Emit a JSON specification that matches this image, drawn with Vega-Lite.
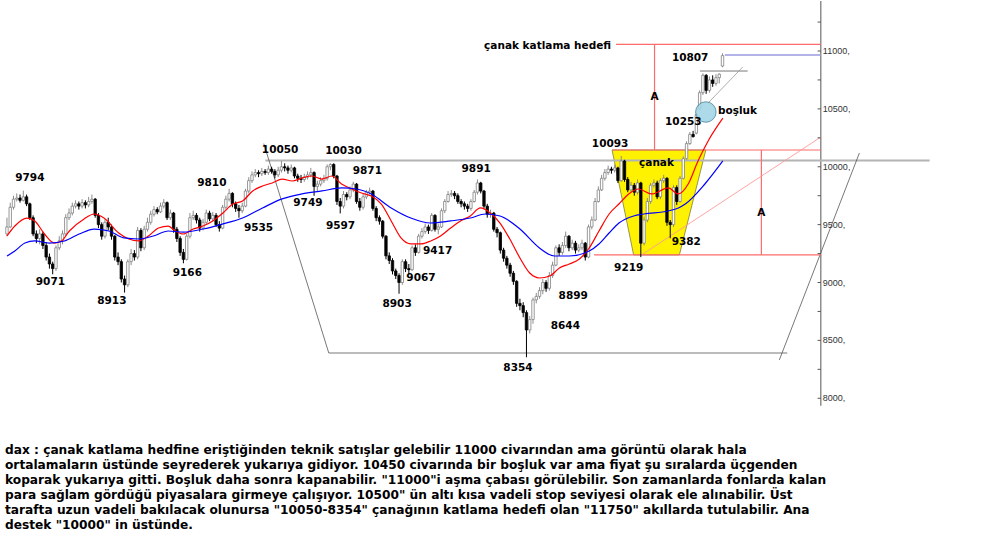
{
"$schema":"https://vega.github.io/schema/vega-lite/v6.json",
"width":1000,"height":410,"padding":0,"background":"white",
"config":{"view":{"stroke":null}},
"title":{"text":["dax : çanak katlama hedfine eriştiğinden teknik satışlar gelebilir 11000 civarından ama görüntü olarak hala","ortalamaların üstünde seyrederek yukarıya gidiyor. 10450 civarında bir boşluk var ama fiyat şu sıralarda üçgenden","koparak yukarıya gitti. Boşluk daha sonra kapanabilir.  \"11000\"i aşma çabası görülebilir. Son zamanlarda fonlarda kalan","para sağlam gördüğü piyasalara girmeye çalışıyor. 10500\" ün altı kısa vadeli stop seviyesi olarak ele alınabilir. Üst","tarafta uzun vadeli bakılacak olunursa \"10050-8354\" çanağının katlama hedefi olan \"11750\" akıllarda tutulabilir. Ana","destek \"10000\" in üstünde."],"orient":"bottom","anchor":"start","font":"DejaVu Sans","fontSize":12.2,"fontWeight":"bold","color":"#000","lineHeight":15,"offset":33,"dx":5},
"datasets":{
"candles":[
{"d":0,"o":9420,"h":9560,"l":9400,"c":9480},{"d":1,"o":9480,"h":9690,"l":9470,"c":9650},{"d":2,"o":9650,"h":9750,"l":9630,"c":9720},{"d":3,"o":9720,"h":9770,"l":9700,"c":9730},{"d":4,"o":9730,"h":9760,"l":9690,"c":9710},{"d":5,"o":9710,"h":9794,"l":9700,"c":9740},{"d":6,"o":9740,"h":9760,"l":9660,"c":9680},{"d":7,"o":9680,"h":9690,"l":9540,"c":9560},{"d":8,"o":9560,"h":9580,"l":9400,"c":9420},{"d":9,"o":9420,"h":9450,"l":9340,"c":9380},
{"d":10,"o":9380,"h":9460,"l":9330,"c":9420},{"d":11,"o":9420,"h":9440,"l":9290,"c":9320},{"d":12,"o":9320,"h":9350,"l":9190,"c":9220},{"d":13,"o":9220,"h":9250,"l":9120,"c":9160},{"d":14,"o":9160,"h":9180,"l":9071,"c":9120},{"d":15,"o":9120,"h":9320,"l":9100,"c":9300},{"d":16,"o":9300,"h":9400,"l":9280,"c":9360},{"d":17,"o":9360,"h":9450,"l":9330,"c":9420},{"d":18,"o":9420,"h":9590,"l":9400,"c":9560},{"d":19,"o":9560,"h":9640,"l":9540,"c":9600},
{"d":20,"o":9600,"h":9690,"l":9580,"c":9660},{"d":21,"o":9660,"h":9710,"l":9640,"c":9680},{"d":22,"o":9680,"h":9700,"l":9630,"c":9660},{"d":23,"o":9660,"h":9720,"l":9640,"c":9690},{"d":24,"o":9690,"h":9710,"l":9640,"c":9670},{"d":25,"o":9670,"h":9740,"l":9650,"c":9700},{"d":26,"o":9700,"h":9760,"l":9680,"c":9720},{"d":27,"o":9720,"h":9730,"l":9560,"c":9580},{"d":28,"o":9580,"h":9600,"l":9470,"c":9500},{"d":29,"o":9500,"h":9520,"l":9370,"c":9400},
{"d":30,"o":9400,"h":9550,"l":9380,"c":9520},{"d":31,"o":9520,"h":9560,"l":9450,"c":9480},{"d":32,"o":9480,"h":9500,"l":9370,"c":9400},{"d":33,"o":9400,"h":9410,"l":9190,"c":9220},{"d":34,"o":9220,"h":9260,"l":9150,"c":9180},{"d":35,"o":9180,"h":9200,"l":9000,"c":9030},{"d":36,"o":9030,"h":9060,"l":8913,"c":8980},{"d":37,"o":8980,"h":9200,"l":8960,"c":9180},{"d":38,"o":9180,"h":9290,"l":9150,"c":9250},{"d":39,"o":9250,"h":9280,"l":9190,"c":9220},
{"d":40,"o":9220,"h":9480,"l":9200,"c":9450},{"d":41,"o":9450,"h":9470,"l":9270,"c":9300},{"d":42,"o":9300,"h":9490,"l":9280,"c":9460},{"d":43,"o":9460,"h":9560,"l":9440,"c":9520},{"d":44,"o":9520,"h":9620,"l":9500,"c":9590},{"d":45,"o":9590,"h":9660,"l":9570,"c":9630},{"d":46,"o":9630,"h":9650,"l":9590,"c":9610},{"d":47,"o":9610,"h":9690,"l":9600,"c":9660},{"d":48,"o":9660,"h":9720,"l":9640,"c":9690},{"d":49,"o":9690,"h":9700,"l":9540,"c":9560},
{"d":50,"o":9560,"h":9630,"l":9540,"c":9600},{"d":51,"o":9600,"h":9610,"l":9430,"c":9460},{"d":52,"o":9460,"h":9480,"l":9350,"c":9380},{"d":53,"o":9380,"h":9400,"l":9230,"c":9260},{"d":54,"o":9260,"h":9290,"l":9166,"c":9200},{"d":55,"o":9200,"h":9420,"l":9190,"c":9400},{"d":56,"o":9400,"h":9600,"l":9380,"c":9560},{"d":57,"o":9560,"h":9620,"l":9540,"c":9580},{"d":58,"o":9580,"h":9600,"l":9510,"c":9540},{"d":59,"o":9540,"h":9560,"l":9440,"c":9470},
{"d":60,"o":9470,"h":9550,"l":9450,"c":9520},{"d":61,"o":9520,"h":9630,"l":9500,"c":9600},{"d":62,"o":9600,"h":9620,"l":9530,"c":9550},{"d":63,"o":9550,"h":9610,"l":9530,"c":9580},{"d":64,"o":9580,"h":9600,"l":9480,"c":9500},{"d":65,"o":9500,"h":9530,"l":9440,"c":9470},{"d":66,"o":9470,"h":9670,"l":9460,"c":9650},{"d":67,"o":9650,"h":9750,"l":9630,"c":9720},{"d":68,"o":9720,"h":9810,"l":9700,"c":9770},{"d":69,"o":9770,"h":9780,"l":9650,"c":9680},
{"d":70,"o":9680,"h":9700,"l":9610,"c":9640},{"d":71,"o":9640,"h":9670,"l":9560,"c":9620},{"d":72,"o":9620,"h":9690,"l":9600,"c":9660},{"d":73,"o":9660,"h":9810,"l":9650,"c":9790},{"d":74,"o":9790,"h":9910,"l":9770,"c":9880},{"d":75,"o":9880,"h":9960,"l":9860,"c":9930},{"d":76,"o":9930,"h":9980,"l":9910,"c":9950},{"d":77,"o":9950,"h":9970,"l":9910,"c":9940},{"d":78,"o":9940,"h":9990,"l":9920,"c":9960},{"d":79,"o":9960,"h":9980,"l":9930,"c":9950},
{"d":80,"o":9950,"h":10010,"l":9930,"c":9980},{"d":81,"o":9980,"h":10000,"l":9940,"c":9960},{"d":82,"o":9960,"h":9980,"l":9900,"c":9930},{"d":83,"o":9930,"h":10000,"l":9910,"c":9970},{"d":84,"o":9970,"h":10050,"l":9950,"c":10000},{"d":85,"o":10000,"h":10030,"l":9960,"c":9990},{"d":86,"o":9990,"h":10010,"l":9940,"c":9970},{"d":87,"o":9970,"h":10020,"l":9950,"c":9990},{"d":88,"o":9990,"h":10000,"l":9900,"c":9920},{"d":89,"o":9920,"h":9940,"l":9870,"c":9900},
{"d":90,"o":9900,"h":9930,"l":9860,"c":9890},{"d":91,"o":9890,"h":9940,"l":9870,"c":9910},{"d":92,"o":9910,"h":9960,"l":9890,"c":9930},{"d":93,"o":9930,"h":9990,"l":9910,"c":9950},{"d":94,"o":9950,"h":9960,"l":9749,"c":9830},{"d":95,"o":9830,"h":9880,"l":9790,"c":9850},{"d":96,"o":9850,"h":9910,"l":9830,"c":9880},{"d":97,"o":9880,"h":9930,"l":9860,"c":9900},{"d":98,"o":9900,"h":10020,"l":9880,"c":10000},{"d":99,"o":10000,"h":10030,"l":9970,"c":10020},
{"d":100,"o":10020,"h":10030,"l":9900,"c":9920},{"d":101,"o":9920,"h":9930,"l":9670,"c":9700},{"d":102,"o":9700,"h":9730,"l":9597,"c":9660},{"d":103,"o":9660,"h":9790,"l":9640,"c":9760},{"d":104,"o":9760,"h":9780,"l":9710,"c":9740},{"d":105,"o":9740,"h":9830,"l":9720,"c":9800},{"d":106,"o":9800,"h":9871,"l":9780,"c":9850},{"d":107,"o":9850,"h":9860,"l":9680,"c":9700},{"d":108,"o":9700,"h":9730,"l":9620,"c":9650},{"d":109,"o":9650,"h":9770,"l":9630,"c":9740},
{"d":110,"o":9740,"h":9800,"l":9720,"c":9780},{"d":111,"o":9780,"h":9820,"l":9760,"c":9790},{"d":112,"o":9790,"h":9800,"l":9620,"c":9640},{"d":113,"o":9640,"h":9660,"l":9530,"c":9560},{"d":114,"o":9560,"h":9580,"l":9500,"c":9530},{"d":115,"o":9530,"h":9540,"l":9380,"c":9400},{"d":116,"o":9400,"h":9410,"l":9200,"c":9230},{"d":117,"o":9230,"h":9260,"l":9160,"c":9190},{"d":118,"o":9190,"h":9210,"l":9070,"c":9100},{"d":119,"o":9100,"h":9120,"l":9030,"c":9060},
{"d":120,"o":9060,"h":9080,"l":8903,"c":9000},{"d":121,"o":9000,"h":9200,"l":8980,"c":9180},{"d":122,"o":9180,"h":9200,"l":9090,"c":9120},{"d":123,"o":9120,"h":9160,"l":9067,"c":9110},{"d":124,"o":9110,"h":9320,"l":9100,"c":9300},{"d":125,"o":9300,"h":9330,"l":9230,"c":9260},{"d":126,"o":9260,"h":9420,"l":9250,"c":9400},{"d":127,"o":9400,"h":9470,"l":9380,"c":9440},{"d":128,"o":9440,"h":9510,"l":9420,"c":9480},{"d":129,"o":9480,"h":9500,"l":9420,"c":9450},
{"d":130,"o":9450,"h":9600,"l":9440,"c":9580},{"d":131,"o":9580,"h":9590,"l":9440,"c":9460},{"d":132,"o":9460,"h":9510,"l":9417,"c":9480},{"d":133,"o":9480,"h":9640,"l":9470,"c":9620},{"d":134,"o":9620,"h":9720,"l":9600,"c":9700},{"d":135,"o":9700,"h":9790,"l":9690,"c":9760},{"d":136,"o":9760,"h":9800,"l":9740,"c":9770},{"d":137,"o":9770,"h":9790,"l":9720,"c":9750},{"d":138,"o":9750,"h":9770,"l":9680,"c":9700},{"d":139,"o":9700,"h":9720,"l":9650,"c":9680},
{"d":140,"o":9680,"h":9700,"l":9630,"c":9660},{"d":141,"o":9660,"h":9680,"l":9610,"c":9640},{"d":142,"o":9640,"h":9720,"l":9620,"c":9700},{"d":143,"o":9700,"h":9800,"l":9690,"c":9780},{"d":144,"o":9780,"h":9891,"l":9760,"c":9860},{"d":145,"o":9860,"h":9870,"l":9770,"c":9790},{"d":146,"o":9790,"h":9800,"l":9640,"c":9660},{"d":147,"o":9660,"h":9680,"l":9560,"c":9590},{"d":148,"o":9590,"h":9630,"l":9560,"c":9600},{"d":149,"o":9600,"h":9610,"l":9440,"c":9460},
{"d":150,"o":9460,"h":9480,"l":9390,"c":9430},{"d":151,"o":9430,"h":9440,"l":9250,"c":9280},{"d":152,"o":9280,"h":9300,"l":9180,"c":9210},{"d":153,"o":9210,"h":9230,"l":9120,"c":9150},{"d":154,"o":9150,"h":9170,"l":9050,"c":9080},{"d":155,"o":9080,"h":9100,"l":8980,"c":9010},{"d":156,"o":9010,"h":9020,"l":8790,"c":8820},{"d":157,"o":8820,"h":8860,"l":8760,"c":8800},{"d":158,"o":8800,"h":8830,"l":8700,"c":8740},{"d":159,"o":8740,"h":8760,"l":8354,"c":8590},
{"d":160,"o":8590,"h":8710,"l":8560,"c":8680},{"d":161,"o":8680,"h":8870,"l":8644,"c":8850},{"d":162,"o":8850,"h":8910,"l":8820,"c":8880},{"d":163,"o":8880,"h":8960,"l":8860,"c":8930},{"d":164,"o":8930,"h":9030,"l":8899,"c":9000},{"d":165,"o":9000,"h":9020,"l":8920,"c":8950},{"d":166,"o":8950,"h":9090,"l":8930,"c":9060},{"d":167,"o":9060,"h":9180,"l":9040,"c":9150},{"d":168,"o":9150,"h":9320,"l":9140,"c":9300},{"d":169,"o":9300,"h":9330,"l":9230,"c":9260},
{"d":170,"o":9260,"h":9350,"l":9240,"c":9320},{"d":171,"o":9320,"h":9440,"l":9300,"c":9400},{"d":172,"o":9400,"h":9410,"l":9270,"c":9300},{"d":173,"o":9300,"h":9370,"l":9280,"c":9340},{"d":174,"o":9340,"h":9360,"l":9250,"c":9280},{"d":175,"o":9280,"h":9330,"l":9260,"c":9300},{"d":176,"o":9300,"h":9370,"l":9280,"c":9340},{"d":177,"o":9340,"h":9350,"l":9190,"c":9220},{"d":178,"o":9220,"h":9500,"l":9210,"c":9480},{"d":179,"o":9480,"h":9570,"l":9460,"c":9540},
{"d":180,"o":9540,"h":9730,"l":9530,"c":9700},{"d":181,"o":9700,"h":9830,"l":9690,"c":9800},{"d":182,"o":9800,"h":9930,"l":9790,"c":9900},{"d":183,"o":9900,"h":9980,"l":9880,"c":9950},{"d":184,"o":9950,"h":10010,"l":9930,"c":9980},{"d":185,"o":9980,"h":10000,"l":9940,"c":9970},{"d":186,"o":9970,"h":10020,"l":9950,"c":9990},{"d":187,"o":9990,"h":10000,"l":9860,"c":9880},{"d":188,"o":9880,"h":10093,"l":9870,"c":10050},{"d":189,"o":10050,"h":10060,"l":9870,"c":9890},
{"d":190,"o":9890,"h":9910,"l":9780,"c":9800},{"d":191,"o":9800,"h":9870,"l":9780,"c":9840},{"d":192,"o":9840,"h":9860,"l":9750,"c":9780},{"d":193,"o":9780,"h":9890,"l":9760,"c":9860},{"d":194,"o":9860,"h":9870,"l":9219,"c":9340},{"d":195,"o":9340,"h":9570,"l":9320,"c":9540},{"d":196,"o":9540,"h":9730,"l":9520,"c":9700},{"d":197,"o":9700,"h":9860,"l":9680,"c":9840},{"d":198,"o":9840,"h":9890,"l":9820,"c":9860},{"d":199,"o":9860,"h":9880,"l":9720,"c":9740},
{"d":200,"o":9740,"h":9900,"l":9720,"c":9880},{"d":201,"o":9880,"h":9930,"l":9860,"c":9900},{"d":202,"o":9900,"h":9910,"l":9490,"c":9520},{"d":203,"o":9520,"h":9540,"l":9382,"c":9500},{"d":204,"o":9500,"h":9840,"l":9480,"c":9820},{"d":205,"o":9820,"h":9840,"l":9670,"c":9700},{"d":206,"o":9700,"h":9920,"l":9690,"c":9900},{"d":207,"o":9900,"h":10090,"l":9890,"c":10070},{"d":208,"o":10070,"h":10220,"l":10060,"c":10200},{"d":209,"o":10200,"h":10300,"l":10190,"c":10280},
{"d":210,"o":10280,"h":10310,"l":10253,"c":10260},{"d":211,"o":10290,"h":10460,"l":10280,"c":10450},{"d":212,"o":10500,"h":10660,"l":10490,"c":10640},{"d":213,"o":10640,"h":10807,"l":10620,"c":10790},{"d":214,"o":10790,"h":10800,"l":10630,"c":10660},{"d":215,"o":10660,"h":10780,"l":10640,"c":10750},{"d":216,"o":10750,"h":10790,"l":10690,"c":10720},{"d":217,"o":10720,"h":10800,"l":10700,"c":10770},{"d":218,"o":10770,"h":10807,"l":10720,"c":10800},{"d":219,"o":10870,"h":10980,"l":10860,"c":10960}
],
"ma":[
{"s":"r","d":0,"v":9402},{"s":"r","d":2.4,"v":9488},{"s":"r","d":6.1,"v":9557},{"s":"r","d":8.5,"v":9532},{"s":"r","d":11.5,"v":9419},{"s":"r","d":14.5,"v":9341},{"s":"r","d":16.7,"v":9359},{"s":"r","d":19.1,"v":9445},{"s":"r","d":23.6,"v":9549},{"s":"r","d":26.7,"v":9592},{"s":"r","d":29.7,"v":9557},{"s":"r","d":34.2,"v":9428},{"s":"r","d":37.3,"v":9376},{"s":"r","d":40.3,"v":9359},{"s":"r","d":43.3,"v":9402},{"s":"r","d":46.4,"v":9471},{"s":"r","d":49.4,"v":9488},{"s":"r","d":51.5,"v":9445},{"s":"r","d":54,"v":9419},{"s":"r","d":57,"v":9462},{"s":"r","d":60,"v":9488},{"s":"r","d":63,"v":9532},{"s":"r","d":66.1,"v":9601},{"s":"r","d":69.1,"v":9678},{"s":"r","d":72.1,"v":9704},{"s":"r","d":75.2,"v":9791},{"s":"r","d":78.2,"v":9834},{"s":"r","d":81.2,"v":9860},{"s":"r","d":84.2,"v":9894},{"s":"r","d":87.3,"v":9877},{"s":"r","d":90.3,"v":9903},{"s":"r","d":93.3,"v":9920},{"s":"r","d":96.4,"v":9894},{"s":"r","d":99.4,"v":9920},{"s":"r","d":102.4,"v":9851},{"s":"r","d":105.5,"v":9808},{"s":"r","d":108.5,"v":9773},{"s":"r","d":111.5,"v":9747},{"s":"r","d":114.6,"v":9678},{"s":"r","d":117.6,"v":9532},{"s":"r","d":120.6,"v":9385},{"s":"r","d":123.6,"v":9333},{"s":"r","d":126.7,"v":9333},{"s":"r","d":129.7,"v":9359},{"s":"r","d":132.7,"v":9402},{"s":"r","d":135.8,"v":9471},{"s":"r","d":138.8,"v":9532},{"s":"r","d":141.8,"v":9575},{"s":"r","d":144.9,"v":9644},{"s":"r","d":147.9,"v":9601},{"s":"r","d":150.9,"v":9514},{"s":"r","d":153.9,"v":9376},{"s":"r","d":157,"v":9212},{"s":"r","d":160,"v":9082},{"s":"r","d":163,"v":9039},{"s":"r","d":166.1,"v":9056},{"s":"r","d":169.1,"v":9125},{"s":"r","d":172.1,"v":9160},{"s":"r","d":175.2,"v":9203},{"s":"r","d":178.2,"v":9298},{"s":"r","d":181.2,"v":9445},{"s":"r","d":184.3,"v":9592},{"s":"r","d":187.3,"v":9678},{"s":"r","d":190.3,"v":9765},{"s":"r","d":193.3,"v":9808},{"s":"r","d":197.3,"v":9765},{"s":"r","d":202.4,"v":9817},{"s":"r","d":205.5,"v":9765},{"s":"r","d":208.5,"v":9851},{"s":"r","d":211.5,"v":10050},{"s":"r","d":214.6,"v":10223},{"s":"r","d":219.1,"v":10420},
{"s":"b","d":0,"v":9229},{"s":"b","d":2.4,"v":9272},{"s":"b","d":5.5,"v":9341},{"s":"b","d":8.5,"v":9359},{"s":"b","d":13,"v":9341},{"s":"b","d":17.6,"v":9359},{"s":"b","d":22.1,"v":9419},{"s":"b","d":26.7,"v":9462},{"s":"b","d":31.2,"v":9445},{"s":"b","d":35.8,"v":9385},{"s":"b","d":40.3,"v":9376},{"s":"b","d":44.8,"v":9402},{"s":"b","d":49.4,"v":9445},{"s":"b","d":54,"v":9436},{"s":"b","d":60,"v":9462},{"s":"b","d":66.1,"v":9506},{"s":"b","d":72.1,"v":9557},{"s":"b","d":78.2,"v":9644},{"s":"b","d":84.2,"v":9722},{"s":"b","d":90.3,"v":9765},{"s":"b","d":96.4,"v":9791},{"s":"b","d":102.4,"v":9817},{"s":"b","d":107,"v":9808},{"s":"b","d":111.5,"v":9765},{"s":"b","d":117.6,"v":9644},{"s":"b","d":123.6,"v":9557},{"s":"b","d":129.7,"v":9514},{"s":"b","d":135.8,"v":9532},{"s":"b","d":141.8,"v":9557},{"s":"b","d":146.4,"v":9592},{"s":"b","d":150.9,"v":9575},{"s":"b","d":157,"v":9462},{"s":"b","d":163,"v":9298},{"s":"b","d":167.6,"v":9229},{"s":"b","d":172.1,"v":9229},{"s":"b","d":178.2,"v":9272},{"s":"b","d":181.2,"v":9333},{"s":"b","d":184.3,"v":9428},{"s":"b","d":187.3,"v":9514},{"s":"b","d":191.8,"v":9575},{"s":"b","d":194.9,"v":9592},{"s":"b","d":202.4,"v":9618},{"s":"b","d":205.5,"v":9644},{"s":"b","d":207.6,"v":9678},{"s":"b","d":213.6,"v":9851},{"s":"b","d":219.1,"v":10050}
],
"labels":[
{"t":"9794","d":7.0,"p":9903},{"t":"9071","d":13.3,"p":9005},{"t":"8913","d":32.1,"p":8840},{"t":"9166","d":55.2,"p":9082},{"t":"9810","d":62.7,"p":9860},{"t":"9535","d":77.0,"p":9471},{"t":"10050","d":83.6,"p":10145},{"t":"10030","d":103.0,"p":10136},{"t":"9749","d":92.1,"p":9687},{"t":"9871","d":110.3,"p":9963},{"t":"9597","d":102.1,"p":9488},{"t":"9891","d":143.6,"p":9981},{"t":"9417","d":131.8,"p":9272},{"t":"9067","d":126.7,"p":9039},{"t":"8903","d":119.4,"p":8815},{"t":"8899","d":173.3,"p":8884},{"t":"8644","d":170.9,"p":8625},{"t":"8354","d":156.4,"p":8262},{"t":"10093","d":184.6,"p":10197},{"t":"çanak","d":198.8,"p":10033},{"t":"9382","d":207.9,"p":9350},{"t":"9219","d":190.3,"p":9126},{"t":"10253","d":207.0,"p":10387},{"t":"10807","d":209.1,"p":10940},{"t":"A","d":198.2,"p":10603},{"t":"A","d":230.9,"p":9600}
],
"axislabels":[
{"p":8000,"t":"8000,"},{"p":8500,"t":"8500,"},{"p":9000,"t":"9000,"},{"p":9500,"t":"9500,"},{"p":10000,"t":"10000,"},{"p":10500,"t":"10500,"},{"p":11000,"t":"11000,"}
]
},
"layer":[
{"data":{"values":[{"p":10145,"xa":185.2,"xb":213.9},{"p":9238,"xa":191.8,"xb":205.8}]},
 "mark":{"type":"area","orient":"horizontal","fill":"#fff200","stroke":"#6b6b3a","strokeWidth":0.7},
 "encoding":{"y":{"field":"p","type":"quantitative","scale":{"domain":[7890,11432],"nice":false,"zero":false},"axis":null},
  "x":{"field":"xa","type":"quantitative","scale":{"domain":[-0.6,302.4],"nice":false,"zero":false},"axis":null},"x2":{"field":"xb"}}},
{"data":{"values":[{"d1":249.1,"d2":249.1,"p1":7935,"p2":11432}]},
 "mark":{"type":"rule","color":"#555","strokeWidth":1},
 "encoding":{"x":{"field":"d1","type":"quantitative","axis":null},"x2":{"field":"d2"},"y":{"field":"p1","type":"quantitative","axis":null},"y2":{"field":"p2"}}},
{"data":{"values":[{"d1":79.1,"d2":282.4,"p1":10055,"p2":10055}]},
 "mark":{"type":"rule","color":"#b4b4b4","strokeWidth":2},
 "encoding":{"x":{"field":"d1","type":"quantitative","axis":null},"x2":{"field":"d2"},"y":{"field":"p1","type":"quantitative","axis":null},"y2":{"field":"p2"}}},
{"data":{"values":[{"d1":78.6,"p1":10200,"d2":98.5,"p2":8391},{"d1":98.5,"p1":8391,"d2":238.8,"p2":8391},{"d1":236.4,"p1":8331,"d2":260.9,"p2":10119},{"d1":212.1,"p1":10827,"d2":226.7,"p2":10827}]},
 "mark":{"type":"rule","color":"#555","strokeWidth":0.8},
 "encoding":{"x":{"field":"d1","type":"quantitative","axis":null},"x2":{"field":"d2"},"y":{"field":"p1","type":"quantitative","axis":null},"y2":{"field":"p2"}}},
{"data":{"values":[{"d1":214.6,"p1":10551,"d2":225.2,"p2":10862}]},
 "mark":{"type":"rule","color":"#999","strokeWidth":0.8},
 "encoding":{"x":{"field":"d1","type":"quantitative","axis":null},"x2":{"field":"d2"},"y":{"field":"p1","type":"quantitative","axis":null},"y2":{"field":"p2"}}},
{"data":{"values":[{"d1":186.4,"p1":11058,"d2":249.1,"p2":11058},{"d1":198.2,"p1":11058,"d2":198.2,"p2":10145},{"d1":185.2,"p1":10145,"d2":249.1,"p2":10145},{"d1":179.7,"p1":9238,"d2":249.1,"p2":9238},{"d1":230.9,"p1":10145,"d2":230.9,"p2":9238}]},
 "mark":{"type":"rule","color":"#ff6b6b","strokeWidth":1.2},
 "encoding":{"x":{"field":"d1","type":"quantitative","axis":null},"x2":{"field":"d2"},"y":{"field":"p1","type":"quantitative","axis":null},"y2":{"field":"p2"}}},
{"data":{"values":[{"d1":194.2,"p1":9238,"d2":249.1,"p2":10257}]},
 "mark":{"type":"rule","color":"#ff9a9a","strokeWidth":0.9},
 "encoding":{"x":{"field":"d1","type":"quantitative","axis":null},"x2":{"field":"d2"},"y":{"field":"p1","type":"quantitative","axis":null},"y2":{"field":"p2"}}},
{"data":{"values":[{"d1":219.7,"p1":10965,"d2":249.1,"p2":10965}]},
 "mark":{"type":"rule","color":"#9a9ae0","strokeWidth":1.5},
 "encoding":{"x":{"field":"d1","type":"quantitative","axis":null},"x2":{"field":"d2"},"y":{"field":"p1","type":"quantitative","axis":null},"y2":{"field":"p2"}}},
{"data":{"name":"candles"},
 "mark":{"type":"rule","strokeWidth":1},
 "encoding":{"x":{"field":"d","type":"quantitative","axis":null},"y":{"field":"l","type":"quantitative","axis":null},"y2":{"field":"h"},
  "color":{"condition":{"test":"datum.c >= datum.o","value":"#8c8c8c"},"value":"#000000"}}},
{"data":{"name":"candles"},
 "mark":{"type":"bar","size":2.4,"strokeWidth":0.8},
 "encoding":{"x":{"field":"d","type":"quantitative","axis":null},"y":{"field":"o","type":"quantitative","axis":null},"y2":{"field":"c"},
  "fill":{"condition":{"test":"datum.c >= datum.o","value":"#ffffff"},"value":"#000000"},
  "stroke":{"condition":{"test":"datum.c >= datum.o","value":"#808080"},"value":"#000000"}}},
{"data":{"name":"ma"},
 "mark":{"type":"line","strokeWidth":1.2,"interpolate":"monotone"},
 "encoding":{"x":{"field":"d","type":"quantitative","axis":null},"y":{"field":"v","type":"quantitative","axis":null},
  "color":{"field":"s","type":"nominal","scale":{"domain":["r","b"],"range":["#ff0000","#0000ff"]},"legend":null}}},
{"data":{"values":[{"d":213.9,"p":10473}]},
 "mark":{"type":"point","shape":"circle","filled":true,"size":420,"fill":"#9fd4e6","stroke":"#2f6f86","strokeWidth":0.8,"opacity":0.85},
 "encoding":{"x":{"field":"d","type":"quantitative","axis":null},"y":{"field":"p","type":"quantitative","axis":null}}},
{"data":{"name":"labels"},
 "mark":{"type":"text","font":"DejaVu Sans","fontSize":10.5,"fontWeight":"bold","color":"#000","align":"center","baseline":"middle"},
 "encoding":{"x":{"field":"d","type":"quantitative","axis":null},"y":{"field":"p","type":"quantitative","axis":null},"text":{"field":"t"}}},
{"data":{"values":[{"t":"boşluk","d":217.6,"p":10482}]},
 "mark":{"type":"text","font":"DejaVu Sans","fontSize":10.5,"fontWeight":"bold","color":"#000","align":"left","baseline":"middle"},
 "encoding":{"x":{"field":"d","type":"quantitative","axis":null},"y":{"field":"p","type":"quantitative","axis":null},"text":{"field":"t"}}},
{"data":{"values":[{"t":"çanak katlama hedefi","d":184.9,"p":11043}]},
 "mark":{"type":"text","font":"DejaVu Sans","fontSize":10.5,"fontWeight":"bold","color":"#000","align":"right","baseline":"middle"},
 "encoding":{"x":{"field":"d","type":"quantitative","axis":null},"y":{"field":"p","type":"quantitative","axis":null},"text":{"field":"t"}}},
{"data":{"values":[{"p":8000},{"p":8250},{"p":8500},{"p":8750},{"p":9000},{"p":9250},{"p":9500},{"p":9750},{"p":10000},{"p":10250},{"p":10500},{"p":10750},{"p":11000},{"p":11250}]},
 "mark":{"type":"rule","color":"#555","strokeWidth":1},
 "encoding":{"x":{"datum":248.1,"type":"quantitative","axis":null},"x2":{"datum":249.1},"y":{"field":"p","type":"quantitative","axis":null}}},
{"data":{"name":"axislabels"},
 "mark":{"type":"text","font":"Liberation Sans","fontSize":9,"color":"#333","align":"left","baseline":"middle","dx":2},
 "encoding":{"x":{"datum":249.1,"type":"quantitative","axis":null},"y":{"field":"p","type":"quantitative","axis":null},"text":{"field":"t"}}}
]
}
